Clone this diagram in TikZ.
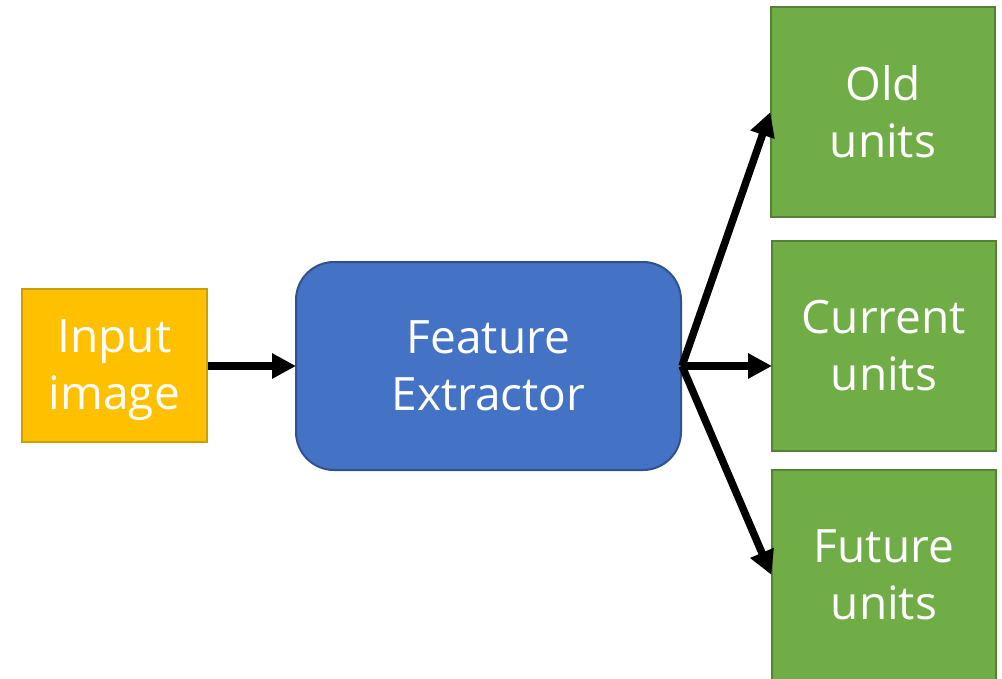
\documentclass[tikz,border=0pt]{standalone}
\usepackage{fontspec}
\setmainfont{Open Sans}
\usetikzlibrary{arrows.meta}
\definecolor{inFill}{HTML}{FFC000}
\definecolor{inLine}{HTML}{C9A000}
\definecolor{feFill}{HTML}{4472C4}
\definecolor{feLine}{HTML}{2F528F}
\definecolor{unFill}{HTML}{70AD47}
\definecolor{unLine}{HTML}{548235}
\tikzset{
  boxtext/.style={text=white, font=\fontsize{46}{57}\selectfont, align=center, inner sep=0pt},
  inbox/.style={boxtext, fill=inFill, draw=inLine, line width=2pt, minimum width=185pt, minimum height=153pt},
  febox/.style={boxtext, fill=feFill, draw=feLine, line width=2pt, rounded corners=38pt, minimum width=385pt, minimum height=208pt},
  unitbox/.style={boxtext, fill=unFill, draw=unLine, line width=2pt, minimum width=224pt, minimum height=210pt},
  flow/.style={line width=7.5pt, -{Triangle[length=24pt,width=24pt]}, shorten >=-1pt}
}
\begin{document}
\begin{tikzpicture}[x=1pt, y=-1pt]
  \useasboundingbox (0,0) rectangle (1002,678);
  \clip (0,0) rectangle (1002,678);
  \fill[white] (0,0) rectangle (1002,678);

  \node[inbox] (input) at (114.5,365) {Input\\\smash{image}};
  \node[febox] (fe) at (488.5,366) {Feature\\Extractor};
  \node[unitbox] (old) at (883,112) {Old\\units};
  \node[unitbox] (cur) at (884,345.5) {Current\\units};
  \node[unitbox] (fut) at (884,575) {Future\\units};

  \coordinate (split) at (fe.east);
  \draw[flow] (input.east |- split) -- (fe.west);
  \draw[flow] (split) -- (old.west |- 0,113);
  \draw[flow] (split) -- (cur.west |- split);
  \draw[flow] (split) -- (fut.west |- 0,574);
\end{tikzpicture}
\end{document}
